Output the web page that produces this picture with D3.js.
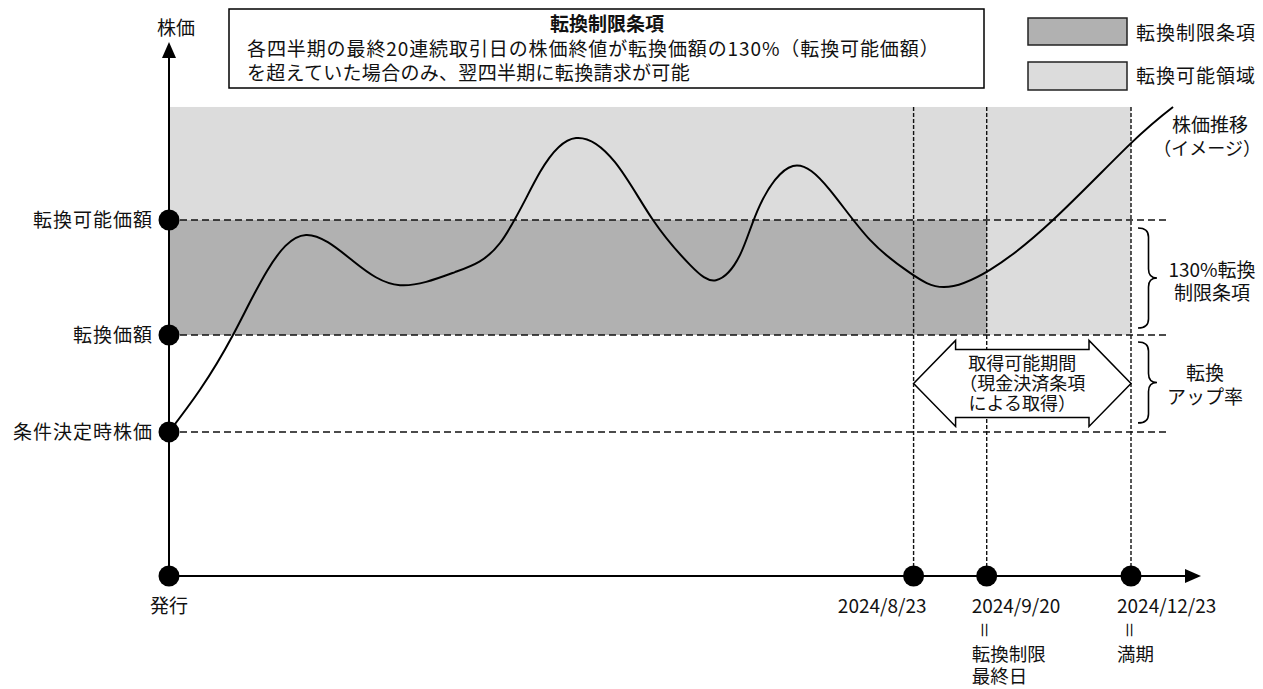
<!DOCTYPE html>
<html lang="ja">
<head>
<meta charset="utf-8">
<script src="https://cdn.jsdelivr.net/npm/d3@7"></script>
<style>
  html, body { margin: 0; padding: 0; background: #fff; }
  svg { display: block; }
  text { font-family: "Noto Sans CJK JP", "Noto Sans", sans-serif; fill: #111; }
</style>
</head>
<body>
<svg id="chart" width="1263" height="689"></svg>
<script>
// ---- price levels (転換価額 = 100) ----
const levelNames  = ["条件決定時株価", "転換価額", "転換可能価額"];
const levelValues = [74.7, 100, 130];
const axisBaseValue = 37.1;     // price where the time axis sits
const regionTopValue = 159.5;   // top of the shaded areas

// ---- timeline events (issue = 0, maturity = 100) ----
const eventLabels = ["発行", "2024/8/23", "2024/9/20", "2024/12/23"];
const eventT      = [0, 77.4, 85.0, 100];

// ---- illustrative share price path ----
const pathT = [0, 3.22, 6.65, 10.19, 14.24, 19.13, 24.01, 29.73, 34.41, 38.57, 42.31, 46.36, 50.31, 54.16,
               56.86, 59.36, 61.43, 64.86, 68.71, 72.87, 77.03, 80.56, 85.34, 91.89, 99.9, 104.37];
const pathV = [74.7, 85.7, 100, 116.7, 126.1, 119.3, 113.0, 116.4, 124.0, 142.5, 151.4, 145.1, 130, 118.3,
               114.3, 120.9, 133.9, 144.1, 137.8, 124.8, 116.2, 112.5, 117.0, 130, 149.8, 159.5];

// ---- text ----
const noteTitle = "転換制限条項";
const noteLines = ["各四半期の最終20連続取引日の株価終値が転換価額の130%（転換可能価額）",
                   "を超えていた場合のみ、翌四半期に転換請求が可能"];
const legendNames = ["転換制限条項", "転換可能領域"];
const legendColors = ["#b1b1b1", "#dcdcdc"];
const arrowLines = ["取得可能期間", "（現金決済条項", "による取得）"];

const svg = d3.select("#chart");
const x = d3.scaleLinear().domain([0, 100]).range([169, 1131]);
const y = d3.scaleLinear().domain([axisBaseValue, 130]).range([576, 220]);

const FS = 19;

// shaded areas
svg.append("rect")
  .attr("x", x(0)).attr("y", y(regionTopValue))
  .attr("width", x(100) - x(0)).attr("height", y(levelValues[1]) - y(regionTopValue))
  .attr("fill", legendColors[1]);
svg.append("rect")
  .attr("x", x(0)).attr("y", y(levelValues[2]))
  .attr("width", x(eventT[2]) - x(0)).attr("height", y(levelValues[1]) - y(levelValues[2]))
  .attr("fill", legendColors[0]);

// horizontal dashed reference lines
svg.selectAll("line.level").data(levelValues).join("line")
  .attr("class", "level")
  .attr("x1", x(0)).attr("x2", 1170)
  .attr("y1", d => y(d)).attr("y2", d => y(d))
  .attr("stroke", "#111").attr("stroke-width", 1.5).attr("stroke-dasharray", "7,4");

// vertical dashed event lines
svg.selectAll("line.event").data(eventT.slice(1)).join("line")
  .attr("class", "event")
  .attr("x1", d => x(d)).attr("x2", d => x(d))
  .attr("y1", y(regionTopValue)).attr("y2", y(axisBaseValue))
  .attr("stroke", "#111").attr("stroke-width", 1.4).attr("stroke-dasharray", "4,2");

// share price path
const line = d3.line().x((d, i) => x(pathT[i])).y(d => y(d)).curve(d3.curveNatural);
svg.append("path").datum(pathV)
  .attr("d", line)
  .attr("fill", "none").attr("stroke", "#000").attr("stroke-width", 2);

// double-headed arrow for the acquisition period
{
  const xl = x(eventT[1]), xr = x(eventT[3]);
  const ym = (y(levelValues[1]) + y(levelValues[0])) / 2;
  const head = 42, hh = 43, sh = 34;
  const pts = [
    [xl, ym], [xl + head, ym - hh], [xl + head, ym - sh], [xr - head, ym - sh], [xr - head, ym - hh],
    [xr, ym], [xr - head, ym + hh], [xr - head, ym + sh], [xl + head, ym + sh], [xl + head, ym + hh]
  ];
  svg.append("polygon")
    .attr("points", pts.map(p => p.join(",")).join(" "))
    .attr("fill", "#fff").attr("stroke", "#000").attr("stroke-width", 1.5);
  svg.append("text")
    .attr("x", (xl + xr) / 2).attr("y", ym - 20)
    .attr("text-anchor", "middle").attr("font-size", 18)
    .selectAll("tspan").data(arrowLines).join("tspan")
    .attr("x", (xl + xr) / 2).attr("dy", (d, i) => i === 0 ? "0.35em" : 20)
    .text(d => d);
}

// axes with arrow heads
svg.append("line").attr("x1", x(0)).attr("x2", x(0)).attr("y1", y(axisBaseValue)).attr("y2", 55)
  .attr("stroke", "#000").attr("stroke-width", 2);
svg.append("path").attr("d", `M${x(0)},42 L${x(0) - 7},58 L${x(0) + 7},58 Z`).attr("fill", "#000");
svg.append("line").attr("x1", x(0)).attr("x2", 1186).attr("y1", y(axisBaseValue)).attr("y2", y(axisBaseValue))
  .attr("stroke", "#000").attr("stroke-width", 2);
svg.append("path").attr("d", `M1201,${y(axisBaseValue)} L1185,${y(axisBaseValue) - 7} L1185,${y(axisBaseValue) + 7} Z`)
  .attr("fill", "#000");

// markers
svg.selectAll("circle.lv").data(levelValues.concat([axisBaseValue])).join("circle")
  .attr("class", "lv").attr("cx", x(0)).attr("cy", d => y(d)).attr("r", 10.5).attr("fill", "#000");
svg.selectAll("circle.ev").data(eventT.slice(1)).join("circle")
  .attr("class", "ev").attr("cx", d => x(d)).attr("cy", y(axisBaseValue)).attr("r", 10.5).attr("fill", "#000");

// y-axis labels
const yAxis = d3.axisLeft(y).tickValues(levelValues).tickSize(0).tickPadding(16)
  .tickFormat((d, i) => levelNames[i]);
const ya = svg.append("g").attr("transform", `translate(${x(0)},0)`).call(yAxis);
ya.select(".domain").remove();
ya.selectAll("text").attr("font-size", FS).attr("font-family", '"Noto Sans CJK JP", sans-serif')
  .attr("fill", "#111").attr("letter-spacing", 1);

svg.append("text").attr("x", 176).attr("y", 28).attr("dy", "0.35em").attr("text-anchor", "middle")
  .attr("font-size", FS).text("株価");

// timeline labels
const evAnchor = ["middle", "end", "start", "start"];
const evDx = [0, 13, -15, -14];
svg.selectAll("text.ev").data(eventLabels).join("text")
  .attr("class", "ev")
  .attr("x", (d, i) => x(eventT[i]) + evDx[i]).attr("y", 606).attr("dy", "0.35em")
  .attr("text-anchor", (d, i) => evAnchor[i]).attr("font-size", FS).text(d => d);

// "＝" turned upright (vertical equals sign) under the dates, then the notes
const subNotes = [[2, ["転換制限", "最終日"]], [3, ["満期"]]];
subNotes.forEach(([i, lines]) => {
  const x0 = x(eventT[i]) + evDx[i];
  svg.append("text")
    .attr("transform", `translate(${x0 + 12},630) rotate(90)`)
    .attr("text-anchor", "middle").attr("dy", "0.35em")
    .attr("font-size", 17).text("＝");
  lines.forEach((t, k) => {
    svg.append("text")
      .attr("x", x0).attr("y", 655 + k * 22).attr("dy", "0.35em")
      .attr("text-anchor", "start").attr("font-size", 18.5).text(t);
  });
});

// note box
svg.append("rect").attr("x", 229).attr("y", 9).attr("width", 755).attr("height", 79)
  .attr("fill", "#fff").attr("stroke", "#000").attr("stroke-width", 1.5);
svg.append("text").attr("x", 607).attr("y", 24).attr("dy", "0.35em").attr("text-anchor", "middle")
  .attr("font-size", FS).attr("font-weight", "bold").text(noteTitle);
noteLines.forEach((t, i) => {
  svg.append("text").attr("x", 247).attr("y", 49 + i * 24).attr("dy", "0.35em")
    .attr("font-size", FS).attr("letter-spacing", i === 0 ? 0.9 : 0.3).text(t);
});

// legend
legendNames.forEach((n, i) => {
  svg.append("rect").attr("x", 1028).attr("y", [18, 62][i]).attr("width", 99).attr("height", [27, 28][i])
    .attr("fill", legendColors[i]).attr("stroke", "#222").attr("stroke-width", 1.5);
  svg.append("text").attr("x", 1136).attr("y", [33, 76][i]).attr("dy", "0.35em")
    .attr("font-size", FS).attr("letter-spacing", 1).text(n);
});

// annotations on the right
function brace(x0, x1, y0, y1) {
  const xm = (x0 + x1) / 2 + 1, ym = (y0 + y1) / 2, r = 9;
  return `M${x0},${y0} Q${xm},${y0} ${xm},${y0 + r} L${xm},${ym - r} Q${xm},${ym} ${x1},${ym}` +
         ` Q${xm},${ym} ${xm},${ym + r} L${xm},${y1 - r} Q${xm},${y1} ${x0},${y1}`;
}
svg.append("path").attr("d", brace(1138, 1157, y(levelValues[2]) + 8, y(levelValues[1]) - 7))
  .attr("fill", "none").attr("stroke", "#000").attr("stroke-width", 1.6);
svg.append("path").attr("d", brace(1138, 1157, y(levelValues[1]) + 7, y(levelValues[0]) - 9))
  .attr("fill", "none").attr("stroke", "#000").attr("stroke-width", 1.6);

const sideNotes = [
  [1172, 125, "start", "株価推移", 19], [1261, 149, "end", "（イメージ）", 18],
  [1212, 270, "middle", "130%転換", 19], [1212, 293, "middle", "制限条項", 19],
  [1205, 373, "middle", "転換", 19], [1205, 397, "middle", "アップ率", 19]
];
sideNotes.forEach(([tx, ty, a, t, fs]) => {
  svg.append("text").attr("x", tx).attr("y", ty).attr("dy", "0.35em")
    .attr("text-anchor", a).attr("font-size", fs).text(t);
});
</script>
</body>
</html>
